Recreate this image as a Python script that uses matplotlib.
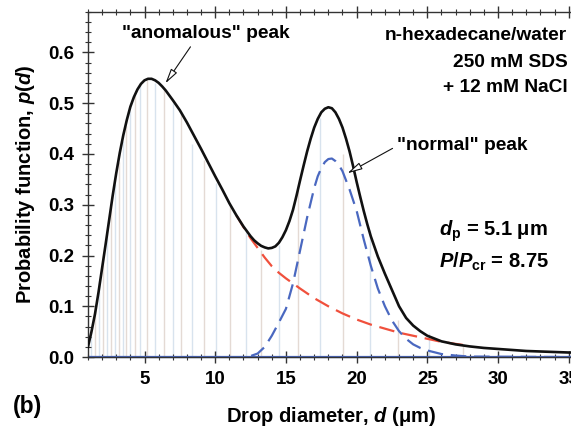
#!/usr/bin/env python3
import numpy as np
import matplotlib
matplotlib.use("Agg")
import matplotlib.pyplot as plt
from matplotlib.ticker import MultipleLocator, FormatStrFormatter

### values
# total fitted distribution (black)
total_d = [1.0, 1.25, 1.5, 1.75, 2.0, 2.25, 2.5, 2.75, 3.0, 3.25, 3.5, 3.75,
           4.0, 4.25, 4.5, 4.75, 5.0, 5.25, 5.5, 5.75, 6.0, 6.25, 6.5, 7.0,
           7.5, 8.0, 8.5, 9.0, 9.5, 10.0, 10.5, 11.0, 11.5, 12.0, 12.5, 12.75,
           13.0, 13.25, 13.5, 13.75, 14.0, 14.25, 14.5, 14.75, 15.0, 15.25,
           15.5, 15.75, 16.0, 16.25, 16.5, 16.75, 17.0, 17.25, 17.5, 17.75,
           18.0, 18.25, 18.5, 18.75, 19.0, 19.25, 19.5, 19.75, 20.0, 20.25,
           20.5, 20.75, 21.0, 21.5, 22.0, 22.5, 23.0, 23.5, 24.0, 24.5, 25.0,
           26.0, 27.0, 28.0, 29.0, 30.0, 31.0, 32.0, 33.0, 34.0, 35.0, 35.5]
total_p = [0.020, 0.050, 0.085, 0.128, 0.175, 0.222, 0.270, 0.318, 0.362,
           0.402, 0.437, 0.467, 0.493, 0.512, 0.527, 0.538, 0.545, 0.548,
           0.548, 0.545, 0.540, 0.533, 0.525, 0.506, 0.486, 0.462, 0.436,
           0.410, 0.383, 0.356, 0.330, 0.303, 0.279, 0.257, 0.238, 0.230,
           0.224, 0.219, 0.216, 0.214, 0.215, 0.218, 0.225, 0.236, 0.250,
           0.268, 0.290, 0.318, 0.348, 0.377, 0.405, 0.430, 0.452, 0.469,
           0.482, 0.489, 0.492, 0.490, 0.482, 0.469, 0.452, 0.430, 0.405,
           0.376, 0.345, 0.316, 0.288, 0.262, 0.238, 0.198, 0.164, 0.132,
           0.100, 0.077, 0.062, 0.051, 0.042, 0.031, 0.025, 0.021, 0.018,
           0.016, 0.014, 0.012, 0.011, 0.010, 0.009, 0.009]

# "anomalous" component (red dashed, hidden under black below ~12)
anom_d = [11.5, 12.0, 12.5, 13.0, 13.5, 14.0, 14.5, 15.0, 15.5, 16.0, 17.0,
          18.0, 19.0, 20.0, 21.0, 22.0, 23.0, 24.0, 25.0, 26.0, 27.0, 28.0]
anom_p = [0.279, 0.256, 0.234, 0.215, 0.196, 0.179, 0.166, 0.155, 0.145,
          0.135, 0.116, 0.100, 0.086, 0.074, 0.064, 0.056, 0.048, 0.042,
          0.036, 0.030, 0.026, 0.022]

# "normal" component (blue dashed)
norm_d = [1.0, 12.0, 12.5, 13.0, 13.5, 14.0, 14.5, 15.0, 15.5, 16.0, 16.5,
          17.0, 17.25, 17.5, 17.75, 18.0, 18.25, 18.5, 18.75, 19.0, 19.5,
          20.0, 20.5, 21.0, 21.5, 22.0, 22.5, 23.0, 23.5, 24.0, 24.5, 25.0,
          26.0, 27.0, 28.0, 35.5]
norm_p = [0.0, 0.0, 0.002, 0.007, 0.020, 0.042, 0.068, 0.095, 0.145, 0.210,
          0.275, 0.333, 0.356, 0.372, 0.384, 0.390, 0.391, 0.386, 0.378,
          0.366, 0.330, 0.288, 0.232, 0.180, 0.135, 0.100, 0.072, 0.051,
          0.036, 0.025, 0.018, 0.013, 0.006, 0.003, 0.001, 0.0]

# measured histogram (thin vertical lines)
hist_d = [1.25, 1.52, 1.81, 2.10, 2.35, 2.63, 2.89, 3.17, 3.46, 3.72, 4.00,
          4.36, 4.71, 5.18, 5.77, 6.36, 7.00, 7.60, 8.37, 9.19, 10.09, 11.04,
          12.15, 13.21, 14.48, 15.85, 17.40, 19.07, 20.93, 22.93, 25.10, 27.50]
hist_p = [0.05, 0.10, 0.15, 0.20, 0.245, 0.295, 0.34, 0.385, 0.425, 0.455,
          0.485, 0.515, 0.535, 0.545, 0.54, 0.525, 0.50, 0.48, 0.42, 0.388,
          0.343, 0.30, 0.25, 0.21, 0.22, 0.33, 0.47, 0.40, 0.25, 0.073,
          0.047, 0.024]

### colours
black = "#111111"
red = "#f0503c"
blue = "#4a68c0"
hist_colors = ["#d8e3ee", "#e4dad4"]
axis_color = "#333333"

plt.rcParams["font.family"] = ["Liberation Sans", "DejaVu Sans"]
plt.rcParams["font.weight"] = "bold"
plt.rcParams["axes.labelweight"] = "bold"
plt.rcParams["mathtext.fontset"] = "custom"
plt.rcParams["mathtext.rm"] = "Liberation Sans:bold"
plt.rcParams["mathtext.it"] = "Liberation Sans:bold:italic"
plt.rcParams["mathtext.bf"] = "Liberation Sans:bold"


def setup_axis(ax):
    ax.set_xlim(1, 35.4)
    ax.set_ylim(0, 0.68)
    ax.set_xticks([5, 10, 15, 20, 25, 30, 35])
    ax.xaxis.set_minor_locator(MultipleLocator(1))
    ax.set_yticks(np.arange(0, 0.61, 0.1))
    ax.yaxis.set_minor_locator(MultipleLocator(0.02))
    ax.yaxis.set_major_formatter(FormatStrFormatter("%.1f"))
    ax.tick_params(which="major", direction="inout", length=8, width=1.0,
                   top=True, labelsize=13.5, pad=6, color=axis_color)
    ax.tick_params(which="minor", direction="inout", length=4, width=0.8,
                   top=True, color=axis_color)
    for s in ax.spines.values():
        s.set_linewidth(1.0)
        s.set_color(axis_color)
    ax.spines["right"].set_visible(False)


if __name__ == "__main__":
    fig = plt.figure(figsize=(5.71, 4.36), dpi=100)
    ax = fig.add_axes([0.154, 0.181, 0.852, 0.792])

    # histogram lines
    for i, (d, p) in enumerate(zip(hist_d, hist_p)):
        ax.vlines(d, 0, p, color=hist_colors[i % 2], linewidth=1.0, zorder=1)

    # the normal component sits on the axis as a solid blue line where it is zero
    ax.hlines(0, norm_d[0], norm_d[-1], color=blue, linewidth=1.6, zorder=2,
              clip_on=False)
    ax.plot(anom_d, anom_p, color=red, linewidth=1.6, dashes=(7, 3.5), zorder=2)
    ax.plot(norm_d, norm_p, color=blue, linewidth=1.6, dashes=(7, 3.5), zorder=2)
    ax.plot(total_d, total_p, color=black, linewidth=1.9, zorder=3)

    setup_axis(ax)

    ax.set_xlabel(r"Drop diameter, $d$ (μm)", fontsize=14.5, labelpad=12)
    ax.set_ylabel(r"Probability function, $p$($d$)", fontsize=14.5, labelpad=8)

    arrow = dict(arrowstyle="-|>,head_length=0.9,head_width=0.22",
                 fc="white", ec=black, lw=0.8, shrinkA=0, shrinkB=0)
    ax.text(9.3, 0.638, '"anomalous" peak', ha="center", va="center", fontsize=13.8)
    ax.annotate("", xy=(6.48, 0.539), xytext=(8.25, 0.611), arrowprops=arrow)
    ax.text(27.45, 0.417, '"normal" peak', ha="center", va="center", fontsize=13.8)
    ax.annotate("", xy=(19.35, 0.362), xytext=(22.54, 0.411), arrowprops=arrow)

    ax.text(34.9, 0.634, "n-hexadecane/water", ha="right", va="center", fontsize=13.8)
    ax.text(34.9, 0.581, "250 mM SDS", ha="right", va="center", fontsize=13.8)
    ax.text(34.9, 0.530, "+ 12 mM NaCl", ha="right", va="center", fontsize=13.8)
    ax.text(25.8, 0.247, r"$d_{\mathrm{p}}$ = 5.1 μm", ha="left", va="center", fontsize=14.5)
    ax.text(25.8, 0.188, r"$P$/$P_{\mathrm{cr}}$ = 8.75", ha="left", va="center", fontsize=14.5)

    fig.text(0.022, 0.067, "(b)", ha="left", va="center", fontsize=16.5)

    fig.savefig("out.png", dpi=100)
